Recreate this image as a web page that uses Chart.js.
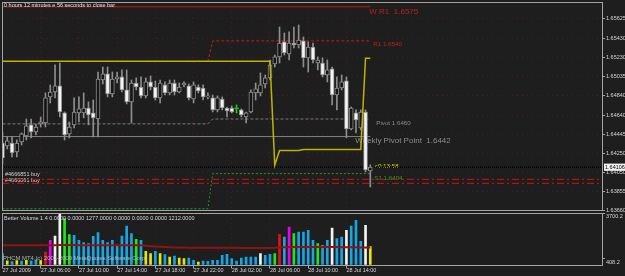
<!DOCTYPE html>
<html>
<head>
<meta charset="utf-8">
<script src="https://cdn.jsdelivr.net/npm/chart.js@4.4.1/dist/chart.umd.min.js"></script>
<style>
  html, body { margin: 0; padding: 0; background: #1e1e1e; }
  #wrap { position: relative; width: 625px; height: 276px; overflow: hidden; }
  canvas { position: absolute; left: 0; }
  #main { top: 0; }
  #vol { top: 211px; }
</style>
</head>
<body>
<div id="wrap">
  <canvas id="main" width="625" height="212"></canvas>
  <canvas id="vol" width="625" height="65"></canvas>
</div>
<script>
// ─── Data ─────────────────────────────────────────────────────────────────────
const timeLabels = ["27 Jul 2009", "27 Jul 06:00", "27 Jul 10:00", "27 Jul 14:00", "27 Jul 18:00",
  "27 Jul 22:00", "28 Jul 02:00", "28 Jul 06:00", "28 Jul 10:00", "28 Jul 14:00"];
const timeTickBars = [0, 8, 16, 24, 32, 40, 48, 56, 64, 72];
const priceTicks = [1.65625, 1.65430, 1.65230, 1.65035, 1.64840, 1.64640, 1.64445, 1.64250, 1.64050, 1.63855, 1.63660];
const volumeTicks = [408.2, 3700.2];

// M30 candles, 27 Jul 02:00 -> 28 Jul 16:30
const opens = [1.64354, 1.64324, 1.64354, 1.64262, 1.64365, 1.64426, 1.64539, 1.64467, 1.64549, 1.64559,
  1.64826, 1.64877, 1.64939, 1.64662, 1.64447, 1.64539, 1.64662, 1.64662, 1.64713, 1.64662,
  1.64600, 1.65000, 1.65062, 1.64857, 1.65010, 1.65031, 1.64898, 1.64775, 1.64969, 1.64928,
  1.64836, 1.64980, 1.64928, 1.64816, 1.64949, 1.64867, 1.64969, 1.64877, 1.64949, 1.64939,
  1.64805, 1.64928, 1.64918, 1.64826, 1.64816, 1.64693, 1.64805, 1.64713, 1.64713, 1.64703,
  1.64693, 1.64621, 1.64672, 1.64867, 1.64867, 1.64959, 1.65021, 1.65164, 1.65236, 1.65390,
  1.65267, 1.65379, 1.65359, 1.65400, 1.65226, 1.65338, 1.65174, 1.65174, 1.65051, 1.65113,
  1.64846, 1.64918, 1.64990, 1.64498, 1.64662, 1.64508, 1.64672, 1.64067];
const highs = [1.64467, 1.64416, 1.64416, 1.64385, 1.64457, 1.64600, 1.64600, 1.64549, 1.64621, 1.64867,
  1.64949, 1.65154, 1.65174, 1.64672, 1.64570, 1.64816, 1.64826, 1.64867, 1.64775, 1.64795,
  1.65082, 1.65133, 1.65133, 1.65082, 1.65082, 1.65103, 1.65103, 1.65000, 1.65021, 1.65031,
  1.65021, 1.65041, 1.64990, 1.65000, 1.64980, 1.65000, 1.65000, 1.64969, 1.64980, 1.64959,
  1.64980, 1.64949, 1.64949, 1.64867, 1.64846, 1.64836, 1.64826, 1.64723, 1.64734, 1.64744,
  1.64703, 1.64672, 1.64898, 1.64969, 1.65072, 1.65051, 1.65205, 1.65256, 1.65543, 1.65482,
  1.65492, 1.65543, 1.65564, 1.65441, 1.65390, 1.65379, 1.65236, 1.65226, 1.65205, 1.65133,
  1.65031, 1.65051, 1.65031, 1.64723, 1.64693, 1.64693, 1.64693, 1.64129];
const lows = [1.64139, 1.64293, 1.64211, 1.64211, 1.64334, 1.64385, 1.64406, 1.64436, 1.64518, 1.64518,
  1.64764, 1.64816, 1.64621, 1.64385, 1.64406, 1.64508, 1.64570, 1.64611, 1.64539, 1.64416,
  1.64416, 1.64959, 1.64826, 1.64826, 1.64969, 1.64877, 1.64754, 1.64559, 1.64898, 1.64816,
  1.64816, 1.64898, 1.64795, 1.64764, 1.64846, 1.64846, 1.64846, 1.64867, 1.64928, 1.64795,
  1.64764, 1.64867, 1.64795, 1.64805, 1.64672, 1.64672, 1.64693, 1.64621, 1.64662, 1.64662,
  1.64621, 1.64559, 1.64662, 1.64795, 1.64836, 1.64918, 1.65000, 1.65133, 1.65174, 1.65256,
  1.65205, 1.65328, 1.65328, 1.65133, 1.65082, 1.65174, 1.65103, 1.65031, 1.64980, 1.64744,
  1.64693, 1.64898, 1.64406, 1.64488, 1.64457, 1.64488, 1.64057, 1.63903];
const closes = [1.64201, 1.64375, 1.64252, 1.64354, 1.64447, 1.64529, 1.64467, 1.64518, 1.64570, 1.64816,
  1.64877, 1.64939, 1.64672, 1.64436, 1.64518, 1.64672, 1.64703, 1.64713, 1.64641, 1.64611,
  1.65010, 1.65062, 1.64857, 1.65010, 1.65031, 1.64898, 1.64775, 1.64969, 1.64928, 1.64836,
  1.64980, 1.64928, 1.64816, 1.64969, 1.64867, 1.64969, 1.64877, 1.64928, 1.64969, 1.64816,
  1.64949, 1.64887, 1.64826, 1.64836, 1.64693, 1.64816, 1.64713, 1.64682, 1.64672, 1.64703,
  1.64641, 1.64662, 1.64877, 1.64908, 1.64949, 1.65021, 1.65154, 1.65236, 1.65379, 1.65277,
  1.65379, 1.65359, 1.65410, 1.65226, 1.65338, 1.65205, 1.65205, 1.65051, 1.65103, 1.64846,
  1.64918, 1.64980, 1.64498, 1.64713, 1.64590, 1.64672, 1.64078, 1.64106];

// Better Volume
const volumes = [770, 260, 210, 280, 230, 300, 250, 320, 270, 893,
  1735, 2045, 3700.2, 3290, 2138, 2095, 1735, 1562, 1490, 2023,
  2282, 1735, 1562, 1735, 1375, 2045, 2765, 2210, 1807, 1735,
  943, 770, 943, 770, 698, 533, 605, 461, 410, 461,
  295, 173, 245, 223, 295, 295, 655, 727, 410, 245,
  461, 533, 533, 533, 770, 655, 727, 770, 2167, 1973,
  2693, 2210, 2333, 2333, 2455, 1735, 1490, 1375, 1735, 2621,
  1850, 1973, 2455, 2765, 3175, 1663, 2815, 1277];
const volumeKinds = ["b", "y", "b", "y", "b", "y", "b", "b", "y", "r",
  "m", "w", "w", "g", "g", "b", "b", "b", "b", "b",
  "b", "b", "b", "b", "b", "b", "b", "b", "g", "b",
  "y", "y", "b", "y", "b", "y", "b", "y", "y", "b",
  "b", "y", "b", "b", "b", "b", "b", "b", "b", "b",
  "b", "b", "b", "b", "w", "b", "b", "g", "r", "b",
  "m", "g", "b", "b", "b", "b", "g", "b", "b", "w",
  "b", "b", "w", "b", "b", "b", "w", "y"];
const volumeAvg = [1380, 1382, 1378, 1380, 1376, 1378, 1380, 1377, 1375, 1378,
  1380, 1384, 1395, 1398, 1392, 1388, 1385, 1383, 1380, 1382,
  1384, 1380, 1378, 1376, 1372, 1374, 1378, 1376, 1372, 1370,
  1340, 1310, 1285, 1262, 1245, 1232, 1222, 1215, 1210, 1206,
  1204, 1200, 1198, 1196, 1195, 1194, 1192, 1192, 1190, 1190,
  1188, 1188, 1186, 1186, 1186, 1188, 1188, 1190, 1225, 1238,
  1248, 1250, 1252, 1254, 1256, 1255, 1252, 1250, 1248, 1246,
  1244, 1240, 1236, 1232, 1228, 1222, 1218, 1212];

// Pivot objects (daily levels change at 28 Jul 00:00)
const dayStartBars = [0, 44];
const r1Levels = [1.6519, 1.6540];
const pivotLevels = [1.6455, 1.6460];
const s1Levels = [1.6368, 1.6404];
const weeklyR1 = 1.6575;
const weeklyPivot = 1.6442;
const orderLevels = [1.63982, 1.63941];
const orderNames = ["#4666851 buy", "#4666861 buy"];

// Yellow indicator line, breakpoints
const yellowBars = [0, 56, 57, 58, 62, 63, 75, 76, 77];
const yellowValues = [1.65192, 1.65192, 1.64128, 1.64277, 1.64277, 1.64287, 1.64287, 1.65222, 1.65222];

// ─── Look ─────────────────────────────────────────────────────────────────────
const FONT = "'Liberation Sans', Arial, sans-serif";
const GRID = "rgba(128,26,26,0.5)";
const FRAME = "#a4a4a4";
const X_MIN = -0.1, X_MAX = 125.5;
const PRICE_MIN = 1.63657, PRICE_MAX = 1.65799;
const VOL_COLORS = { b: "#18a6e2", y: "#e6e600", r: "#e01414", w: "#f2f2f2", g: "#1ee61e", m: "#f000f0" };
const lastBar = closes.length - 1;

// ─── Helpers ──────────────────────────────────────────────────────────────────
function dayLine(levels) {
  const pts = [];
  levels.forEach((lv, d) => {
    const from = dayStartBars[d];
    const to = d + 1 < dayStartBars.length ? dayStartBars[d + 1] - 1 : lastBar;
    pts.push({ x: from, y: lv }, { x: to, y: lv });
  });
  return pts;
}

function levelLine(points, color, dash, width) {
  return {
    type: "line", data: points, borderColor: color, borderDash: dash,
    borderWidth: width || 1, pointRadius: 0, tension: 0, order: 10
  };
}

function drawText(ctx, str, x, y, size, color) {
  ctx.font = `${size}px ${FONT}`;
  ctx.fillStyle = color;
  ctx.fillText(str, x, y);
}

function drawFrame(chart) {
  const { ctx, chartArea: a } = chart;
  ctx.save();
  ctx.strokeStyle = FRAME;
  ctx.lineWidth = 1;
  ctx.strokeRect(Math.floor(a.left) + 0.5, Math.floor(a.top) + 0.5,
    Math.round(a.right - a.left), Math.round(a.bottom - a.top) - 1);
  ctx.restore();
}

function fixedWidth(w) {
  return s => { s.width = w; s.paddingTop = 0; s.paddingBottom = 0; };
}

// ─── Main price panel ─────────────────────────────────────────────────────────
const isDoji = closes.map((c, i) => c === opens[i]);
const wickColors = isDoji.map(d => d ? "#1ec81e" : "#8e8e8e");
const bodyFill = closes.map((c, i) => isDoji[i] ? "#1ec81e" : (c > opens[i] ? "#151515" : "#f4f4f4"));
const bodyEdge = isDoji.map(d => d ? "#1ec81e" : "#8e8e8e");

const objectTexts = {
  id: "objectTexts",
  beforeDatasetsDraw(chart) {
    const { ctx, scales: { x, y } } = chart;
    const endX = x.getPixelForValue(lastBar);
    ctx.save();
    ctx.textBaseline = "middle";
    ctx.textAlign = "left";
    drawText(ctx, "W R1  " + weeklyR1.toFixed(4), endX - 1, y.getPixelForValue(weeklyR1) + 5.5, 8, "#c41e1e");
    drawText(ctx, "R1 " + r1Levels[1].toFixed(4), endX + 3, y.getPixelForValue(r1Levels[1]) + 3, 6.2, "#c41e1e");
    drawText(ctx, "Pivot " + pivotLevels[1].toFixed(4), endX + 6, y.getPixelForValue(pivotLevels[1]) + 4.3, 6.2, "#8a8a8a");
    drawText(ctx, "Weekly Pivot Point  " + weeklyPivot.toFixed(4), endX - 15, y.getPixelForValue(weeklyPivot) + 4.7, 8, "#8c8c8c");
    drawText(ctx, "S1 " + s1Levels[1].toFixed(4), endX + 4, y.getPixelForValue(s1Levels[1]) + 4.5, 6.2, "#22a522");
    drawText(ctx, "<0:13:58", endX + 4, y.getPixelForValue(closes[lastBar]) - 1, 6.2, "#d6d600");
    orderNames.forEach((n, k) => {
      drawText(ctx, n, x.left + 3, y.getPixelForValue(orderLevels[k]) - (k === 0 ? 4.8 : 3.3), 5.5, "#d0d0d0");
    });
    ctx.restore();
  },
  afterDraw(chart) {
    const { ctx, chartArea: a, scales: { y } } = chart;
    drawFrame(chart);
    ctx.save();
    ctx.textBaseline = "middle";
    ctx.textAlign = "left";
    drawText(ctx, "0 hours 12 minutes e 56 seconds to close bar", a.left + 2, 5, 5.5, "#e2e2e2");
    const py = y.getPixelForValue(closes[lastBar]);
    ctx.fillStyle = "#f2f2f2";
    ctx.fillRect(a.right + 2, py - 3.6, 22, 7.2);
    drawText(ctx, closes[lastBar].toFixed(5), a.right + 3, py, 5.5, "#000000");
    ctx.restore();
  }
};

new Chart(document.getElementById("main"), {
  type: "bar",
  data: {
    datasets: [
      levelLine([{ x: 0, y: weeklyR1 }, { x: lastBar, y: weeklyR1 }], "#b81a1a", [], 1),
      levelLine(dayLine(r1Levels), "#c01c1c", [3, 2], 1),
      levelLine(dayLine(pivotLevels), "#7c7c7c", [3, 2], 1),
      levelLine([{ x: 0, y: weeklyPivot }, { x: lastBar, y: weeklyPivot }], "#7d8090", [], 1),
      levelLine(dayLine(s1Levels), "#1f9a1f", [2, 2], 1),
      levelLine([{ x: X_MIN, y: closes[lastBar] }, { x: X_MAX, y: closes[lastBar] }], "#000000", [1, 1], 1.5),
      ...orderLevels.map(lv => levelLine([{ x: X_MIN, y: lv }, { x: X_MAX, y: lv }], "#a8161a", [7, 3, 2, 3], 1.2)),
      {
        type: "bar", label: "wicks",
        data: highs.map((h, i) => ({ x: i, y: [lows[i], h] })),
        backgroundColor: wickColors, barThickness: 1, maxBarThickness: 1,
        grouped: false, order: 5
      },
      {
        type: "bar", label: "bodies",
        data: opens.map((o, i) => ({ x: i, y: [o, closes[i]] })),
        backgroundColor: bodyFill, borderColor: bodyEdge, borderWidth: 1, borderSkipped: false,
        barThickness: 4, maxBarThickness: 4, minBarLength: 1, grouped: false, order: 4
      },
      {
        type: "line", label: "yellow",
        data: yellowBars.map((b, k) => ({ x: b, y: yellowValues[k] })),
        borderColor: "#bdb400", borderWidth: 1.5, pointRadius: 0, tension: 0, order: 1
      }
    ]
  },
  options: {
    responsive: false, animation: false, events: [],
    layout: { padding: { left: 2, top: 2, right: 0, bottom: 1 } },
    plugins: { legend: { display: false }, tooltip: { enabled: false } },
    scales: {
      x: {
        type: "linear", min: X_MIN, max: X_MAX, offset: false,
        afterBuildTicks: s => { s.ticks = timeTickBars.map(v => ({ value: v })); },
        afterFit: s => { s.height = 0; s.paddingLeft = 0; s.paddingRight = 0; },
        ticks: { display: false },
        grid: { color: GRID, drawTicks: false, offset: false },
        border: { display: false, dash: [1, 4] }
      },
      y: {
        position: "right", min: PRICE_MIN, max: PRICE_MAX,
        afterBuildTicks: s => { s.ticks = priceTicks.map(v => ({ value: v })); },
        afterFit: fixedWidth(23),
        ticks: {
          color: "#d6d6d6", font: { family: FONT, size: 5.5 }, padding: 1, autoSkip: false,
          callback: v => v.toFixed(5)
        },
        grid: { color: GRID, tickColor: FRAME, tickLength: 3 },
        border: { display: false, dash: [1, 4] }
      }
    }
  },
  plugins: [objectTexts]
});

// ─── Volume panel ─────────────────────────────────────────────────────────────
const volumeTexts = {
  id: "volumeTexts",
  afterDatasetsDraw(chart) {
    const { ctx, chartArea: a } = chart;
    ctx.save();
    ctx.textBaseline = "middle";
    ctx.textAlign = "left";
    drawText(ctx, "Better Volume 1.4 0.0000 0.0000 1277.0000 0.0000 0.0000 0.0000 1212.0000", a.left + 2, 7.7, 5.5, "#d8d8d8");
    drawText(ctx, "PHCM MT4 (c) 2001-2009 MetaQuotes Software Corp.", a.left + 1, 47.7, 5.9, "rgba(200,200,200,0.85)");
    ctx.restore();
  },
  afterDraw(chart) { drawFrame(chart); }
};

new Chart(document.getElementById("vol"), {
  type: "bar",
  data: {
    datasets: [
      {
        type: "line", label: "average",
        data: volumeAvg.map((v, i) => ({ x: i, y: v })),
        borderColor: "#8e1414", borderWidth: 2, pointRadius: 0, tension: 0, order: 0
      },
      {
        type: "bar", label: "volume",
        data: volumes.map((v, i) => ({ x: i, y: v })),
        backgroundColor: volumeKinds.map(k => VOL_COLORS[k]),
        barThickness: 2, maxBarThickness: 2, grouped: false, order: 1
      }
    ]
  },
  options: {
    responsive: false, animation: false, events: [],
    layout: { padding: { left: 2, top: 2, right: 0, bottom: 0 } },
    plugins: { legend: { display: false }, tooltip: { enabled: false } },
    scales: {
      x: {
        type: "linear", min: X_MIN, max: X_MAX, offset: false,
        afterBuildTicks: s => { s.ticks = timeTickBars.map(v => ({ value: v })); },
        afterFit: s => { s.height = 10.5; s.paddingLeft = 0; s.paddingRight = 0; },
        ticks: {
          color: "#d6d6d6", font: { family: FONT, size: 5.5 }, align: "start", padding: -1.8,
          maxRotation: 0, autoSkip: false, callback: (v, i) => timeLabels[i]
        },
        grid: { color: GRID, tickColor: FRAME, tickLength: 3, offset: false },
        border: { display: false, dash: [1, 4] }
      },
      y: {
        position: "right", min: -80, max: 3700.2,
        afterBuildTicks: s => { s.ticks = volumeTicks.map(v => ({ value: v })); },
        afterFit: fixedWidth(23),
        ticks: {
          color: "#d6d6d6", font: { family: FONT, size: 5.5 }, padding: 1, labelOffset: 3.5,
          autoSkip: false, callback: v => v.toFixed(1)
        },
        grid: { drawOnChartArea: false, tickColor: FRAME, tickLength: 3 },
        border: { display: false }
      }
    }
  },
  plugins: [volumeTexts]
});
</script>
</body>
</html>
